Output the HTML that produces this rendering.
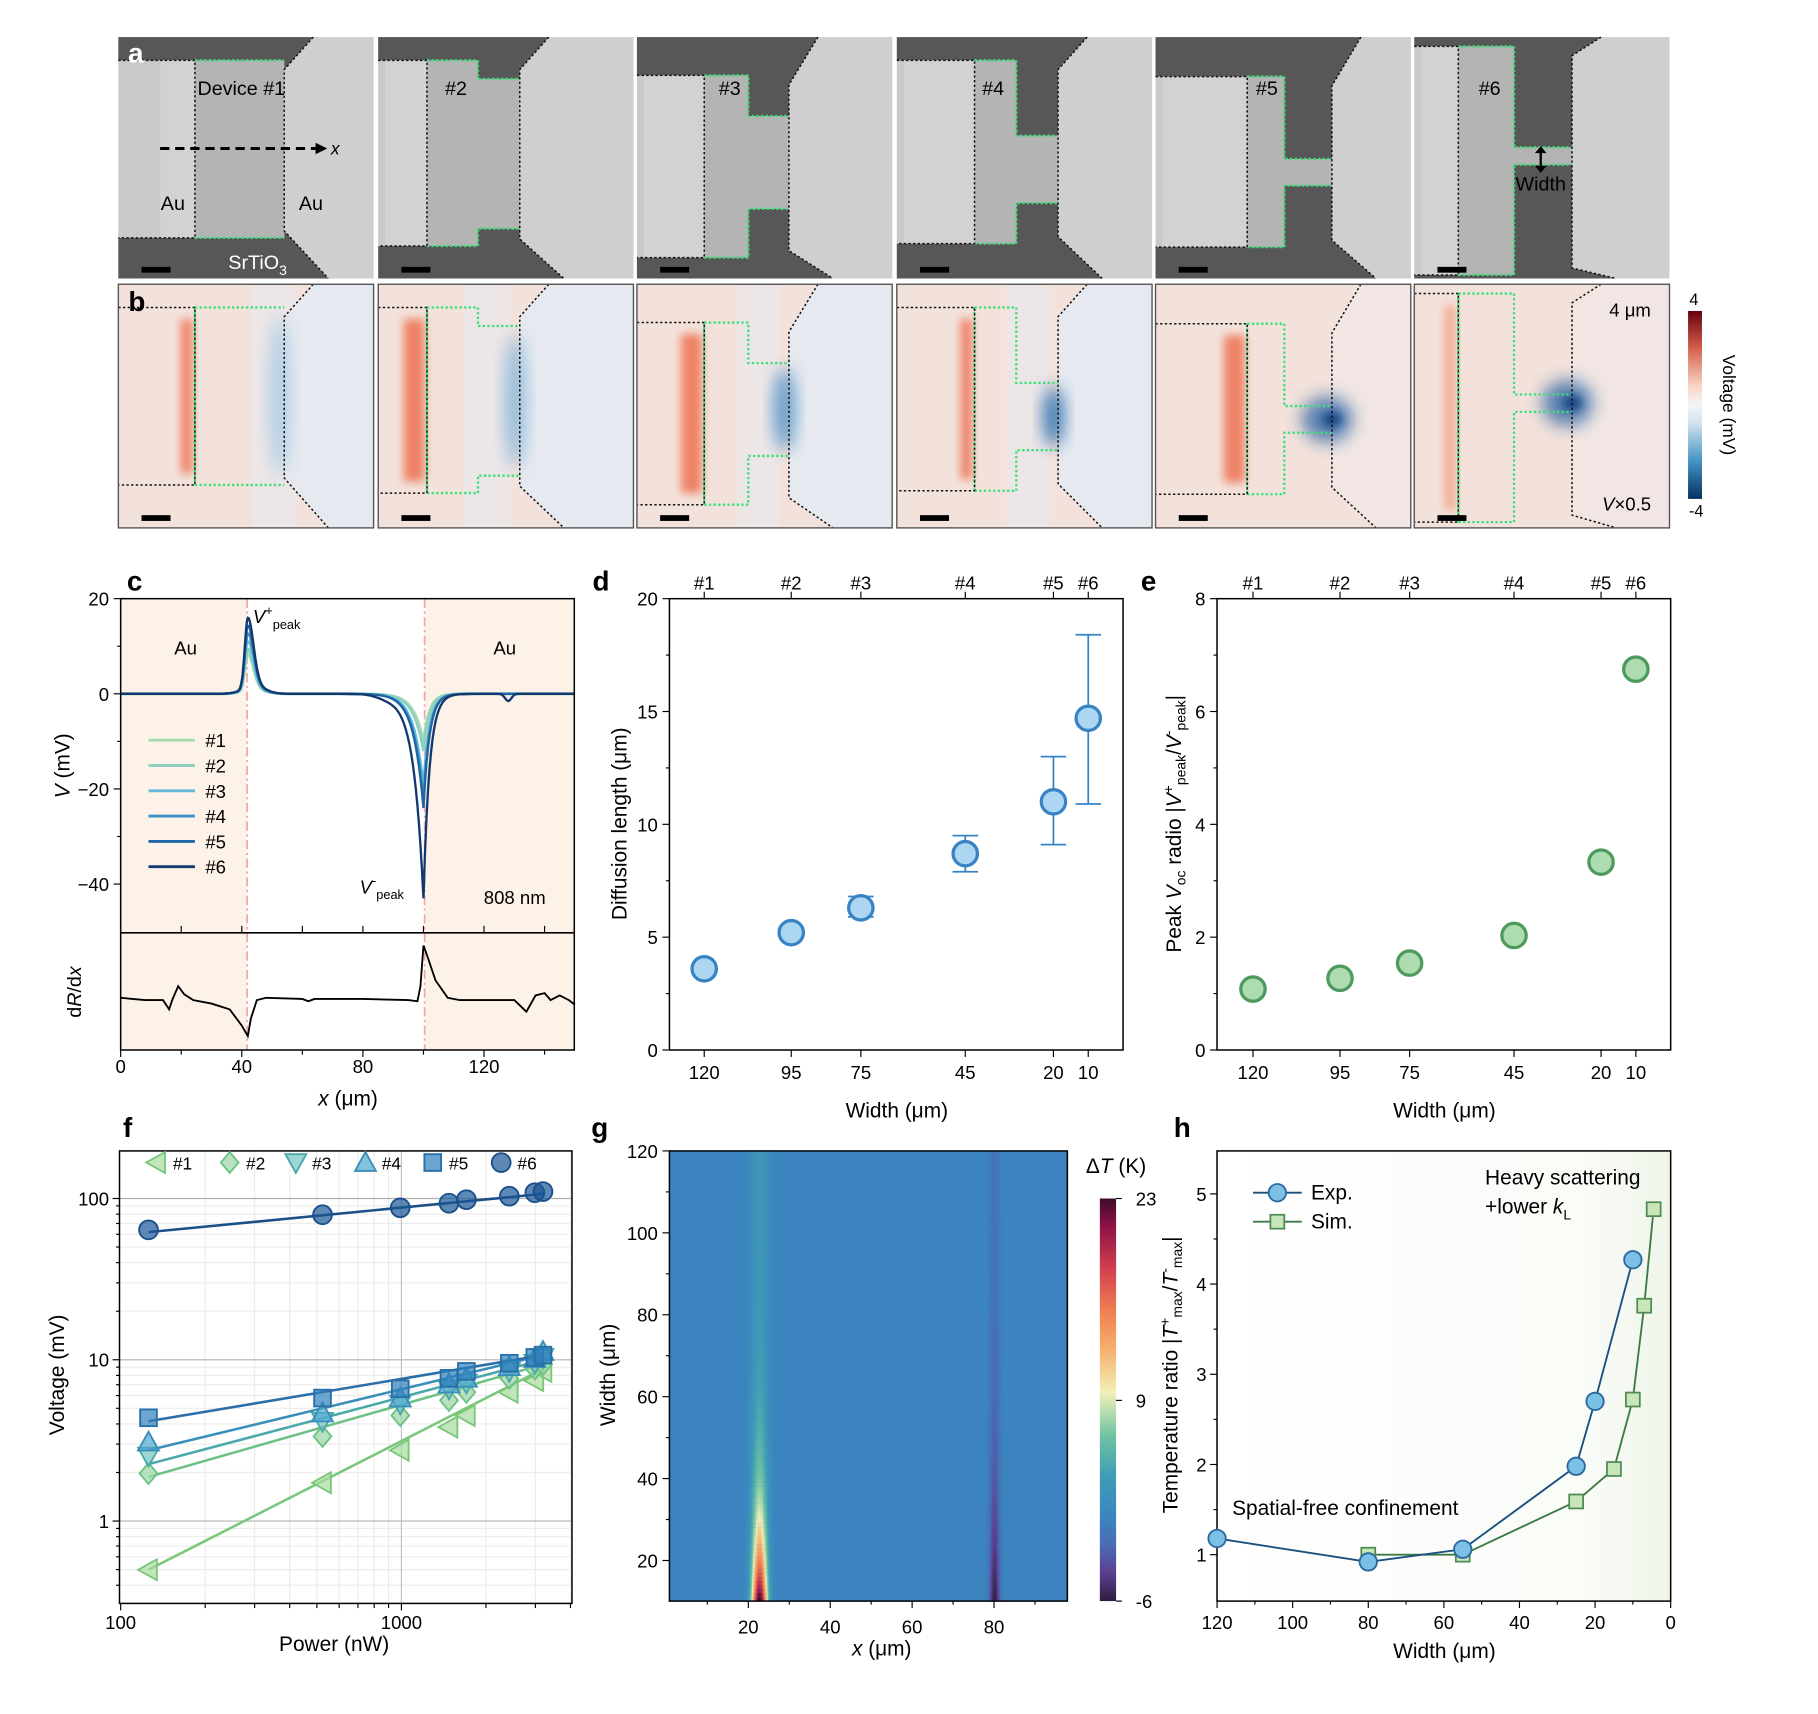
<!DOCTYPE html>
<html><head><meta charset="utf-8"><style>
html,body{margin:0;padding:0;background:#fff;}
#c{width:1818px;height:1709px;}
svg text{font-family:"Liberation Sans",Arial,sans-serif;}
</style></head><body><div id="c"></div>
<script>
let s='';
const T=(x,y,t,o={})=>{s+=`<text x="${x}" y="${y}" font-size="${o.fs||16}" text-anchor="${o.a||'middle'}" ${o.tr?`transform="${o.tr}"`:''} fill="${o.c||'#000'}" ${o.fw?'font-weight="bold"':''} ${o.it?'font-style="italic"':''}>${t}</text>`;};
const L=(x1,y1,x2,y2,c='#000',w=1,ex='')=>{s+=`<line x1="${x1}" y1="${y1}" x2="${x2}" y2="${y2}" stroke="${c}" stroke-width="${w}" ${ex}/>`;};
const R=(x,y,w,h,f,ex='')=>{s+=`<rect x="${x}" y="${y}" width="${w}" height="${h}" fill="${f}" ${ex}/>`;};
const P=(d,f,st='none',w=1,ex='')=>{s+=`<path d="${d}" fill="${f}" stroke="${st}" stroke-width="${w}" ${ex}/>`;};

s+=`<defs>
<filter id="bl" x="-50%" y="-50%" width="200%" height="200%"><feGaussianBlur stdDeviation="4"/></filter>
<filter id="bl2" x="-50%" y="-50%" width="200%" height="200%"><feGaussianBlur stdDeviation="7"/></filter>
<linearGradient id="cbb" x1="0" y1="0" x2="0" y2="1">
<stop offset="0" stop-color="#67000d"/><stop offset="0.2" stop-color="#d6604d"/><stop offset="0.4" stop-color="#f8d5c6"/><stop offset="0.5" stop-color="#f5f5f5"/><stop offset="0.6" stop-color="#cfe1ee"/><stop offset="0.8" stop-color="#4393c3"/><stop offset="1" stop-color="#053061"/></linearGradient>
<linearGradient id="hg" x1="0" y1="0" x2="1" y2="0"><stop offset="0" stop-color="#f4f8f0" stop-opacity="0"/><stop offset="0.8" stop-color="#f4f8f0" stop-opacity="0.5"/><stop offset="1" stop-color="#eef5e8"/></linearGradient>
</defs>`;

const dev=[
 {x0:102,L:168,W:245,N:245,wt:52,wb:205,nt:52,nb:205},
 {x0:326,L:368,W:412,N:448,wt:52,wb:212,nt:68,nb:197},
 {x0:549,L:607,W:645,N:680,wt:65,wb:222,nt:100,nb:180},
 {x0:773,L:840,W:876,N:912,wt:52,wb:210,nt:117,nb:175},
 {x0:996,L:1075,W:1107,N:1148,wt:66,wb:213,nt:137,nb:160},
 {x0:1219,L:1257,W:1305,N:1355,wt:40,wb:237,nt:127,nb:142}];
const gd='stroke-dasharray="2,2"';
dev.forEach((d,i)=>{
 const x0=d.x0,x1=x0+220;
 R(x0,32,220,208,'#c9c9c9');
 P(`M${x0} 32H${d.N+25}L${d.N} ${d.wt+8}V${d.wb-6}L${d.N+38} 240H${x0}V${d.wb}H${d.W}V${d.nb}H${d.N}V${d.nt}H${d.W}V${d.wt}H${x0}Z`,'#575757');
 R(x0+(i==0?36:6),d.wt,d.L-x0-(i==0?36:6),d.wb-d.wt,'#d2d2d2');
 P(`M${d.L} ${d.wt}H${d.W}V${d.nt}H${d.N}V${d.nb}H${d.W}V${d.wb}H${d.L}Z`,'#b4b4b4');
 P(`M${d.N} 32H${x1}V240H${d.N+38}L${d.N} ${d.wb-6}V${d.wt+8}L${d.N+25} 32Z`,'#cfcfcf');
 P(`M${d.L} ${d.wt}H${d.W}V${d.nt}H${d.N}M${d.L} ${d.wb}H${d.W}V${d.nb}H${d.N}`,'none','#3be07a',2,gd);
 P(`M${x0} ${d.wt}H${d.L}V${d.wb}H${x0}M${d.N+25} 32L${d.N} ${d.wt+8}V${d.wb-6}L${d.N+38} 240`,'none','#111',1.3,gd);
 R(x0+20,230,25,5,'#000');
 const y0=245,dy=213;
 R(x0,y0,220,210,'#f3e2db');
 P(`M${d.N} ${y0}H${x1}V455H${d.N+38}L${d.N} ${d.wb+dy-6}V${d.wt+dy+8}L${d.N+25} ${y0}Z`,i>=4?'#f1e6e3':'#e6e9ef');
 if(i<4) R((d.L+d.W)/2+10,y0,(d.N-d.L)/2,210,'#e9e9ee','opacity="0.6"');
 const rx=d.L-6, rh=d.wb-d.wt;
 s+=`<rect x="${rx-(i==1||i==2||i==4?14:6)}" y="${d.wt+dy+10}" width="${i==1||i==2||i==4?18:10}" height="${rh-20}" fill="${i==5?'#f2a890':'#ee7758'}" filter="url(#bl)" opacity="0.9"/>`;
 const bh=Math.max(d.nb-d.nt,25), bc=(d.nt+d.nb)/2+dy;
 const bcol=['#a9cce6','#88b8dc','#4f93c8','#2a6fb0','#1f5aa0','#1f5aa0'][i];
 s+=`<ellipse cx="${d.N-4}" cy="${bc}" rx="${i>=4?22:9}" ry="${i>=4?20:bh*0.45}" fill="${bcol}" filter="url(#bl2)" opacity="${i>=4?0.7:0.9}"/>`;
 if(i>=4) s+=`<ellipse cx="${d.N}" cy="${bc}" rx="8" ry="6" fill="#0c3d80" filter="url(#bl)"/>`;
 P(`M${d.L} ${d.wt+dy}H${d.W}V${d.nt+dy}H${d.N}M${d.L} ${d.wb+dy}H${d.W}V${d.nb+dy}H${d.N}M${d.L} ${d.wt+dy}V${d.wb+dy}`,'none','#3be07a',2,gd);
 P(`M${x0} ${d.wt+dy}H${d.L}V${d.wb+dy}H${x0}M${d.N+25} ${y0}L${d.N} ${d.wt+dy+8}V${d.wb+dy-6}L${d.N+38} 455`,'none','#111',1.3,gd);
 R(x0,y0,220,210,'none','stroke="#555" stroke-width="1.2"');
 R(x0+20,444,25,5,'#000');
});
T(117,54,'a',{fs:24,fw:1,c:'#fff'});T(118,268,'b',{fs:24,fw:1});
T(208,82,'Device #1',{fs:17});['#2','#3','#4','#5','#6'].forEach((t,i)=>T([393,629,856,1092,1284][i],82,t,{fs:17}));
L(138,128,272,128,'#000',2.5,'stroke-dasharray="8,5"');P('M272 123L282 128L272 133Z','#000');T(289,133,'x',{fs:15,it:1});
T(149,181,'Au',{fs:17});T(268,181,'Au',{fs:17});
T(222,232,'SrTiO<tspan font-size="12" dy="5">3</tspan>',{fs:17,c:'#fff'});
L(1328,130,1328,145,'#000',2);P('M1323 132L1328 126L1333 132ZM1323 143L1328 149L1333 143Z','#000');
T(1328,164,'Width',{fs:17});
T(1405,273,'4 μm',{fs:16});T(1402,440,'<tspan font-style="italic">V</tspan>×0.5',{fs:16});
R(1455,268,12,162,'url(#cbb)');T(1460,263,'4',{fs:14});T(1462,445,'-4',{fs:14});
T(1485,349,'Voltage (mV)',{fs:15,tr:'rotate(90 1485 349)'});

const cx=v=>104+v*2.61, cy=v=>598-v*4.1;
R(104,516,109,389,'#fdf2e8');R(366,516,129,389,'#fdf2e8');
L(213,516,213,905,'#f4a6a6',1.5,'stroke-dasharray="8,3,2,3"');L(366,516,366,905,'#f4a6a6',1.5,'stroke-dasharray="8,3,2,3"');
const cc=['#a8dcb0','#8ed1c0','#66bad8','#3b92c6','#1f66a6','#12386f'];
const Pk=[7.5,8.5,10,11.5,13,14.5],Dp=[10,12,19,22,24,43];
for(let k=0;k<6;k++){let d='';for(let x=0;x<=150;x+=0.25){
 let v=Pk[k]*Math.exp(-Math.pow((x-42)/(x<42?1.4:2.6),2))+0.12*Pk[k]*Math.exp(-Math.pow((x-44)/5,2));
 v-=Dp[k]*Math.exp(-Math.abs(x-100)/(x<100?3.3:2.0));
 if(k==5){v-=1.5*Math.exp(-Math.pow((x-128)/1.5,2));v-=0.6*Math.exp(-Math.pow((x-88)/5,2));}
 d+=(x?'L':'M')+cx(x).toFixed(1)+' '+cy(v).toFixed(1);}
 P(d,'none',cc[k],k<2?2.5:2);}
const dr=[[0,860],[8,862],[14,862],[16,870],[17,862],[19,850],[21,857],[24,862],[30,865],[36,870],[40,884],[42,893],[43,878],[45,862],[48,860],[60,861],[62,863],[64,861],[80,861],[95,862],[98,863],[99,850],[100,815],[101,822],[104,845],[108,860],[112,862],[130,862],[134,872],[137,858],[140,856],[142,862],[145,858],[148,862],[150,866]];
P('M'+dr.map(p=>cx(p[0]).toFixed(1)+' '+p[1]).join('L'),'none','#000',1.6);
R(104,516,391,389,'none','stroke="#000" stroke-width="1.3"');L(104,804,495,804,'#000',1.3);
[20,0,-20,-40].forEach(v=>{L(98,cy(v),104,cy(v));T(94,cy(v)+6,v<0?'−'+(-v):v,{a:'end'});});
[10,-10,-30].forEach(v=>L(101,cy(v),104,cy(v)));
[0,40,80,120].forEach(v=>{L(cx(v),905,cx(v),911);T(cx(v),925,v);});
[20,60,100,140].forEach(v=>L(cx(v),905,cx(v),909));
[0,20,40,60,80,100,120,140].forEach(v=>L(cx(v),804,cx(v),798));
cc.forEach((c,k)=>{const y=638+k*21.8;L(128,y,168,y,c,2.5);T(177,y+6,'#'+(k+1),{a:'start'});});
T(160,564,'Au',{fs:16});T(435,564,'Au',{fs:16});
T(218,537,'<tspan font-style="italic">V</tspan><tspan font-size="11" dy="-7">+</tspan><tspan font-size="11" dy="12">peak</tspan>',{fs:16,a:'start'});
T(310,770,'<tspan font-style="italic">V</tspan><tspan font-size="11" dy="-7">-</tspan><tspan font-size="11" dy="12">peak</tspan>',{fs:16,a:'start'});
T(417,779,'808 nm',{fs:16,a:'start'});
T(60,660,'<tspan font-style="italic">V</tspan> (mV)',{fs:18,tr:'rotate(-90 60 660)'});
T(70,855,'d<tspan font-style="italic">R</tspan>/d<tspan font-style="italic">x</tspan>',{fs:17,tr:'rotate(-90 70 855)'});
T(300,953,'<tspan font-style="italic">x</tspan> (μm)',{fs:18});
T(116,509,'c',{fs:24,fw:1});

function scat(x0,ymax,xs,vals,errs,fill,stroke,ylab,ticks,minor,letter){
 const yy=v=>905-v*389/ymax;
 R(x0,516,391,389,'none','stroke="#000" stroke-width="1.3"');
 ticks.forEach(v=>{L(x0-6,yy(v),x0,yy(v));T(x0-10,yy(v)+6,v,{a:'end'});});
 minor.forEach(v=>L(x0-3,yy(v),x0,yy(v)));
 const lab=['120','95','75','45','20','10'];
 xs.forEach((x,i)=>{L(x,905,x,911);L(x,516,x,510);T(x,930,lab[i]);T(x,508,'#'+(i+1));});
 xs.forEach((x,i)=>{if(errs){const e=errs[i];L(x,yy(e[0]),x,yy(e[1]),stroke,1.5);L(x-11,yy(e[0]),x+11,yy(e[0]),stroke,1.5);L(x-11,yy(e[1]),x+11,yy(e[1]),stroke,1.5);}
  s+=`<circle cx="${x}" cy="${yy(vals[i])}" r="10.5" fill="${fill}" stroke="${stroke}" stroke-width="2.8"/>`;});
 T(x0+196,963,'Width (μm)',{fs:18});
 T(x0-59,509,letter,{fs:24,fw:1});
}
scat(577,20,[607,682,742,832,908,938],[3.6,5.2,6.3,8.7,11,14.7],[[3.4,3.8],[5.0,5.4],[5.9,6.8],[7.9,9.5],[9.1,13],[10.9,18.4]],'#acd6f2','#3883c4',0,[0,5,10,15,20],[2.5,7.5,12.5,17.5],'d');
scat(1049,8,[1080,1155,1215,1305,1380,1410],[1.08,1.27,1.54,2.03,3.33,6.75],null,'#acdcb0','#4e9a5e',0,[0,2,4,6,8],[1,3,5,7],'e');
T(540,710,'Diffusion length (μm)',{fs:18,tr:'rotate(-90 540 710)'});
T(1018,710,'Peak <tspan font-style="italic">V</tspan><tspan font-size="12" dy="4">oc</tspan><tspan dy="-4"> radio |</tspan><tspan font-style="italic">V</tspan><tspan font-size="12" dy="-7">+</tspan><tspan font-size="12" dy="11">peak</tspan><tspan dy="-4">/</tspan><tspan font-style="italic">V</tspan><tspan font-size="12" dy="-7">-</tspan><tspan font-size="12" dy="11">peak</tspan><tspan dy="-4">|</tspan>',{fs:18,tr:'rotate(-90 1018 710)'});

const fx=p=>104+(Math.log10(p)-2)*242, fy=v=>1311-Math.log10(v)*139;
for(let d=0;d<3;d++)for(let m=2;m<10;m++){const v=m*Math.pow(10,d-1);const y=fy(v);if(y>992&&y<1382)L(103,y,493,y,'#ececec',1);}
[200,300,400,500,600,700,800,900,2000,3000,4000].forEach(p=>{if(fx(p)<493)L(fx(p),992,fx(p),1382,'#ececec',1);});
[1,10,100].forEach(v=>L(103,fy(v),493,fy(v),'#b0b0b0',1));L(fx(1000),992,fx(1000),1382,'#c0c0c0',1);
R(103,992,390,390,'none','stroke="#000" stroke-width="1.3"');
[1,10,100].forEach(v=>{L(97,fy(v),103,fy(v));T(94,fy(v)+6,v,{a:'end'});});
[100,1000].forEach(p=>{L(fx(p),1382,fx(p),1388);T(fx(p),1404,p);});
[200,300,400,500,600,700,800,900,2000,3000,4000].forEach(p=>L(fx(p),1382,fx(p),1386));
for(let d=0;d<3;d++)for(let m=2;m<10;m++){const y=fy(m*Math.pow(10,d-1));if(y>992&&y<1382)L(100,y,103,y);}
const fxs=[128,278,345,387,402,439,461,468];
const fd=[
 [1353,1278,1250,1230,1220,1200,1190,1182],
 [1270,1238,1220,1207,1200,1188,1180,1176],
 [1255,1225,1210,1197,1192,1182,1175,1170],
 [1243,1218,1205,1193,1188,1178,1171,1165],
 [1222,1205,1197,1188,1182,1175,1170,1168],
 [1060,1047,1041,1037,1034,1031,1028,1027]];
const fl=[[1353,1180],[1273,1176],[1262,1172],[1250,1168],[1225,1168],[1062,1029]];
const fcs=['#a6dc9c','#9ad6a4','#74c6c0','#4fa8cf','#2e7fba','#1a5595'];
const fst=['#7ac77a','#6cc283','#4aa8aa','#3a8fba','#2a6ea8','#1a4f8a'];
function mk(k,x,y,r){const f=fcs[k]+'',st=fst[k];const a=`fill="${f}" fill-opacity="0.7" stroke="${st}" stroke-width="1.6"`;
 if(k==0)s+=`<path d="M${x-r} ${y}L${x+r*0.8} ${y-r}V${y+r}Z" ${a}/>`;
 else if(k==1)s+=`<path d="M${x} ${y-r}L${x+r*0.85} ${y}L${x} ${y+r}L${x-r*0.85} ${y}Z" ${a}/>`;
 else if(k==2)s+=`<path d="M${x-r} ${y-r*0.8}H${x+r}L${x} ${y+r}Z" ${a}/>`;
 else if(k==3)s+=`<path d="M${x-r} ${y+r*0.8}H${x+r}L${x} ${y-r}Z" ${a}/>`;
 else if(k==4)s+=`<rect x="${x-r*0.8}" y="${y-r*0.8}" width="${r*1.6}" height="${r*1.6}" ${a}/>`;
 else s+=`<circle cx="${x}" cy="${y}" r="${r*0.9}" ${a}/>`;}
for(let k=0;k<6;k++){L(128,fl[k][0],468,fl[k][1],fst[k],2.2);fd[k].forEach((y,j)=>mk(k,fxs[j],y,9));}
[135,198,255,315,373,432].forEach((x,k)=>{mk(k,x,1002,9);T(x+14,1008,'#'+(k+1),{a:'start',fs:15});});
T(55,1185,'Voltage (mV)',{fs:18,tr:'rotate(-90 55 1185)'});T(288,1423,'Power (nW)',{fs:18});
T(110,980,'f',{fs:24,fw:1});

const stops=[[-6,[45,30,62]],[-4,[91,63,143]],[-2,[74,107,180]],[0,[59,132,192]],[3,[63,157,182]],[6,[114,196,162]],[9,[241,240,184]],[12,[246,178,113]],[15,[239,125,80]],[18,[208,62,78]],[21,[143,19,71]],[23,[62,11,43]]];
function cm(t){if(t<=-6)return stops[0][1];for(let i=1;i<stops.length;i++){if(t<=stops[i][0]){const a=stops[i-1],b=stops[i];const f=(t-a[0])/(b[0]-a[0]);return a[1].map((v,j)=>Math.round(v+(b[1][j]-v)*f));}}return stops[stops.length-1][1];}
const gx=v=>645+(v-20)*3.53, gy=w=>992+(120-w)*3.53;
R(577,992,343,388,'rgb(59,132,192)');
for(let w=10;w<120;w+=1){const y1=gy(w+1),h=3.6;
 const A=21*Math.exp(-(w-10)/18)+2.2, B=4.8*Math.exp(-(w-10)/30)+1.2;
 const wd=1.8+w*0.006;
 for(let x=17;x<=28;x+=0.3){const t=A*Math.exp(-Math.pow((x-22.6)/wd,2));if(t<0.3)continue;const c=cm(t);R(gx(x).toFixed(1),y1.toFixed(1),1.2,h,`rgb(${c})`);}
 for(let x=76;x<=84;x+=0.3){const t=-B*Math.exp(-Math.pow((x-80)/1.3,2));if(t>-0.2)continue;const c=cm(t);R(gx(x).toFixed(1),y1.toFixed(1),1.2,h,`rgb(${c})`);}
}
R(577,992,343,388,'none','stroke="#000" stroke-width="1.3"');
[20,40,60,80,100,120].forEach(w=>{L(571,gy(w),577,gy(w));T(567,gy(w)+6,w,{a:'end'});});
[30,50,70,90,110].forEach(w=>L(574,gy(w),577,gy(w)));
[20,40,60,80].forEach(v=>{L(gx(v),1380,gx(v),1386);T(gx(v),1408,v);});
[10,30,50,70,90].forEach(v=>L(gx(v),1380,gx(v),1383));
T(530,1185,'Width (μm)',{fs:18,tr:'rotate(-90 530 1185)'});T(760,1427,'<tspan font-style="italic">x</tspan> (μm)',{fs:18});
T(517,980,'g',{fs:24,fw:1});
s+='<linearGradient id="gcb" x1="0" y1="1" x2="0" y2="0">'+stops.map(a=>`<stop offset="${((a[0]+6)/29).toFixed(3)}" stop-color="rgb(${a[1]})"/>`).join('')+'</linearGradient>';
R(948,1033,14,347,'url(#gcb)');
[[23,1033],[9,1207],[-6,1380]].forEach(a=>{L(962,a[1],967,a[1]);T(979,a[1]+6,a[0],{a:'start'});});
T(962,1011,'Δ<tspan font-style="italic">T</tspan> (K)',{fs:18});

const hx=w=>1440-w*3.258, hy=v=>1340-(v-1)*77.75;
R(1049,992,391,388,'url(#hg)');
R(1049,992,391,388,'none','stroke="#000" stroke-width="1.3"');
[1,2,3,4,5].forEach(v=>{L(1043,hy(v),1049,hy(v));T(1040,hy(v)+6,v,{a:'end'});});
[1.5,2.5,3.5,4.5].forEach(v=>L(1046,hy(v),1049,hy(v)));
[120,100,80,60,40,20,0].forEach(w=>{L(hx(w),1380,hx(w),1386);T(hx(w),1404,w);});
[110,90,70,50,30,10].forEach(w=>L(hx(w),1380,hx(w),1383));
const ex=[[120,1.18],[80,0.92],[55,1.06],[25,1.98],[20,2.7],[10,4.27]];
const sm=[[80,1.0],[55,1.0],[25,1.59],[15,1.95],[10,2.72],[7,3.76],[4.5,4.83]];
P('M'+sm.map(p=>hx(p[0]).toFixed(1)+' '+hy(p[1]).toFixed(1)).join('L'),'none','#3d7a45',1.6);
P('M'+ex.map(p=>hx(p[0]).toFixed(1)+' '+hy(p[1]).toFixed(1)).join('L'),'none','#1a4f80',1.6);
sm.forEach(p=>R(hx(p[0])-6,hy(p[1])-6,12,12,'#c8e6b8','stroke="#4e8a55" stroke-width="1.5"'));
ex.forEach(p=>s+=`<circle cx="${hx(p[0])}" cy="${hy(p[1])}" r="7.5" fill="#7cc0e6" stroke="#2a6aa0" stroke-width="1.6"/>`);
L(1080,1028,1122,1028,'#1a4f80',1.6);s+='<circle cx="1101" cy="1028" r="7.5" fill="#7cc0e6" stroke="#2a6aa0" stroke-width="1.6"/>';
L(1080,1053,1122,1053,'#3d7a45',1.6);R(1095,1047,12,12,'#c8e6b8','stroke="#4e8a55" stroke-width="1.5"');
T(1130,1034,'Exp.',{fs:18,a:'start'});T(1130,1059,'Sim.',{fs:18,a:'start'});
T(1280,1021,'Heavy scattering',{fs:18,a:'start'});T(1280,1046,'+lower <tspan font-style="italic">k</tspan><tspan font-size="12" dy="5">L</tspan>',{fs:18,a:'start'});
T(1062,1306,'Spatial-free confinement',{fs:18,a:'start'});
T(1245,1429,'Width (μm)',{fs:18});
T(1015,1185,'Temperature ratio |<tspan font-style="italic">T</tspan><tspan font-size="12" dy="-7">+</tspan><tspan font-size="12" dy="11">max</tspan><tspan dy="-4">/</tspan><tspan font-style="italic">T</tspan><tspan font-size="12" dy="-7">-</tspan><tspan font-size="12" dy="11">max</tspan><tspan dy="-4">|</tspan>',{fs:18,tr:'rotate(-90 1015 1185)'});
T(1019,980,'h',{fs:24,fw:1});

document.getElementById('c').innerHTML=`<svg xmlns="http://www.w3.org/2000/svg" width="1818" height="1709" viewBox="0 0 1567 1473" preserveAspectRatio="none">${s}</svg>`;
</script></body></html>
